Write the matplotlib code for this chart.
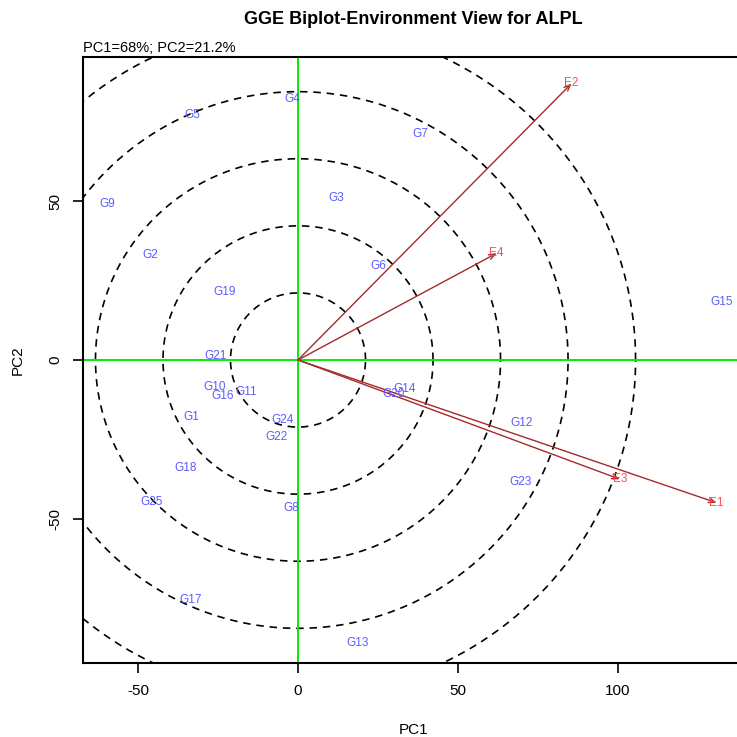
import numpy as np
import matplotlib
matplotlib.use("Agg")
import matplotlib.pyplot as plt

plt.rcParams['font.family'] = ['Liberation Sans', 'DejaVu Sans']
plt.rcParams['axes.unicode_minus'] = False

# Genotype scores (PC1, PC2)
genotypes = ["G1", "G2", "G3", "G4", "G5", "G6", "G7", "G8", "G9", "G10",
             "G11", "G12", "G13", "G14", "G15", "G16", "G17", "G18", "G19", "G20",
             "G21", "G22", "G23", "G24", "G25"]
gen_pc1 = [-33.2, -46.3, 11.9, -1.9, -33.0, 25.0, 38.3, -2.2, -59.6, -26.2,
           -16.3, 69.9, 18.6, 33.4, 132.4, -23.5, -33.6, -35.0, -23.1, 29.8,
           -25.9, -6.7, 69.4, -4.8, -45.9]
gen_pc2 = [-17.8, 33.0, 51.0, 82.1, 77.0, 29.6, 71.0, -46.4, 49.1, -8.6,
           -10.2, -19.9, -88.9, -9.2, 18.3, -11.3, -75.5, -34.0, 21.4, -10.8,
           1.3, -24.3, -38.3, -18.9, -44.7]

# Environment scores (PC1, PC2)
environments = ["E1", "E2", "E3", "E4"]
env_pc1 = [130.8, 85.5, 100.6, 62.1]
env_pc2 = [-44.9, 87.0, -37.5, 33.6]

# Concentric circle radii
circle_radii = [21.1, 42.2, 63.3, 84.4, 105.5]

fig = plt.figure(figsize=(7.37, 7.37), dpi=100)
# plot region runs slightly past the right edge of the canvas
ax = fig.add_axes([83 / 737, 74 / 737, 662 / 737, 606 / 737])

ax.set_xlim(-67.2, 139.7)
ax.set_ylim(-95.3, 95.3)

# circles
t = np.linspace(0, 2 * np.pi, 600)
for r in circle_radii:
    ax.plot(r * np.cos(t), r * np.sin(t), color="black", lw=1.2,
            linestyle=(0, (4.5, 3.5)), zorder=1)

# origin axes
ax.axhline(0, color="#00ee00", lw=1.4, zorder=2)
ax.axvline(0, color="#00ee00", lw=1.4, zorder=2)

# environment vectors
for name, x, y in zip(environments, env_pc1, env_pc2):
    ax.annotate("", xy=(x, y), xytext=(0, 0),
                arrowprops=dict(arrowstyle="->,head_length=0.45,head_width=0.18",
                                color="#a52a2a", lw=1.0, shrinkA=0, shrinkB=0),
                zorder=3)
    ax.text(x, y, name, color="#ff4a4a", fontsize=8.5, ha="center", va="center",
            zorder=4)

# genotype labels
for name, x, y in zip(genotypes, gen_pc1, gen_pc2):
    ax.text(x, y, name, color="#5c5cff", fontsize=8.5, ha="center", va="center",
            zorder=4)

ax.set_xticks([-50, 0, 50, 100])
ax.set_yticks([-50, 0, 50])
ax.tick_params(direction="out", length=7, width=1.2, labelsize=11, pad=8)
for lab in ax.get_yticklabels():
    lab.set_rotation(90)
    lab.set_va("center")
for s in ax.spines.values():
    s.set_linewidth(1.5)

fig.text(414 / 737, 1 - 730 / 737, "PC1", ha="center", va="center", fontsize=11)
fig.text(18 / 737, 1 - 360 / 737, "PC2", ha="center", va="center", fontsize=11,
         rotation=90)
fig.text(413 / 737, 1 - 20 / 737, "GGE Biplot-Environment View for ALPL",
         ha="center", va="center", fontsize=13, fontweight="bold")
fig.text(83 / 737, 1 - 48 / 737, "PC1=68%; PC2=21.2%", ha="left", va="center",
         fontsize=10.5)

fig.savefig("out.png", dpi=100)
